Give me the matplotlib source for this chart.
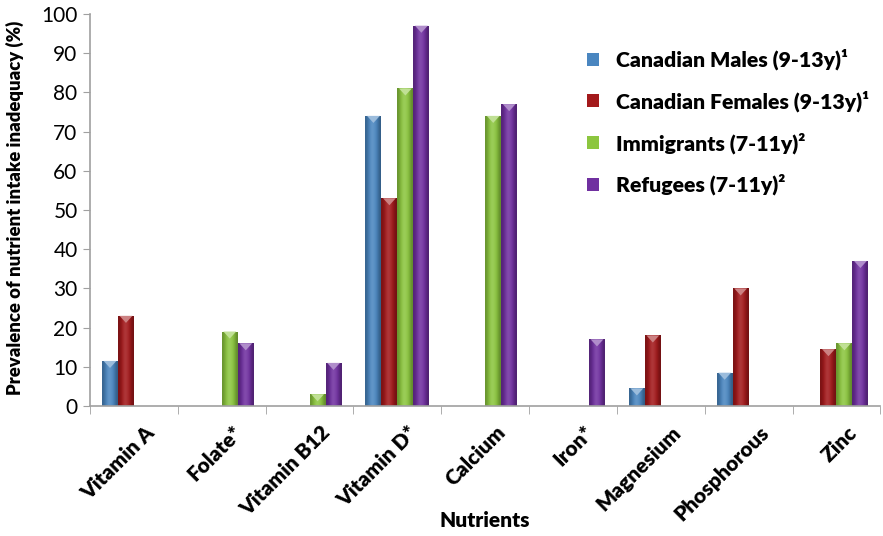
import numpy as np
import matplotlib.pyplot as plt
from matplotlib.patches import Patch, Polygon
from matplotlib.colors import to_rgb

plt.rcParams['font.family'] = ['Lato', 'DejaVu Sans']

nutrients = ['Vitamin A', 'Folate*', 'Vitamin B12', 'Vitamin D*', 'Calcium',
             'Iron*', 'Magnesium', 'Phosphorous', 'Zinc']
series = ['Canadian Males (9-13y)¹', 'Canadian Females (9-13y)¹',
          'Immigrants (7-11y)²', 'Refugees (7-11y)²']
males = [11.5, 0, 0, 74, 0, 0, 4.5, 8.5, 0]
females = [23, 0, 0, 53, 0, 0, 18, 30, 14.5]
immigrants = [0, 19, 3, 81, 74, 0, 0, 0, 16]
refugees = [0, 16, 11, 97, 77, 17, 0, 0, 37]
colors = ['#4a86c0', '#a3191b', '#8cc63f', '#7030a0']

values = [males, females, immigrants, refugees]

fig = plt.figure(figsize=(8.83, 5.36), dpi=100)
ax = fig.add_axes([0.102, 0.2425, 0.895, 0.7315])

x = np.arange(len(nutrients))
w = 0.182


def shade(c, f):
    r = np.array(to_rgb(c))
    if f >= 0:
        return tuple(r + (1 - r) * f)
    return tuple(r * (1 + f))


for i, (vals, col) in enumerate(zip(values, colors)):
    pos = x + (i - 1.5) * w
    bars = ax.bar(pos, vals, w, color=col, edgecolor='none', zorder=2)
    grad = np.array([shade(col, f) for f in [-0.25, -0.05, 0.15, 0.1, -0.05, -0.3]])
    for b, v in zip(bars, vals):
        if v <= 0:
            continue
        x0 = b.get_x()
        im = ax.imshow(grad[np.newaxis, :, :], extent=[x0, x0 + w, 0, v],
                       aspect='auto', interpolation='bicubic', zorder=2)
        im.set_clip_path(b)
        cap = min(1.8, v)
        tri = Polygon([[x0 + w * 0.1, v], [x0 + w * 0.9, v], [x0 + w / 2, v - cap]],
                      closed=True, facecolor=shade(col, 0.45), edgecolor='none', zorder=3)
        ax.add_patch(tri)

ax.set_xlim(-0.5, len(nutrients) - 0.5)
ax.set_ylim(0, 100)
ax.set_yticks(range(0, 101, 10))
ax.set_yticklabels([str(t) for t in range(0, 101, 10)], fontsize=15)
ax.set_xticks(x + 0.12)
ax.set_xticklabels(nutrients, rotation=45, ha='right', rotation_mode='anchor',
                   fontweight='heavy', fontsize=15)
ax.tick_params(axis='x', length=0, pad=12)
ax.set_xticks(np.arange(-0.5, len(nutrients), 1), minor=True)
ax.tick_params(axis='x', which='minor', length=6, color='#a0a0a0')
ax.tick_params(axis='y', length=5, color='#a0a0a0', pad=4)

for s in ['top', 'right']:
    ax.spines[s].set_visible(False)
for s in ['left', 'bottom']:
    ax.spines[s].set_color('#a0a0a0')
    ax.spines[s].set_linewidth(1.2)

ax.set_ylabel('Prevalence of nutrient intake inadequacy (%)', fontweight='heavy',
              fontsize=13.3)
ax.yaxis.set_label_coords(-0.083, 0.505)
ax.set_xlabel('Nutrients', fontweight='heavy', fontsize=15)
ax.xaxis.set_label_coords(0.5, -0.268)

handles = [Patch(facecolor=c, edgecolor='none') for c in colors]
ax.legend(handles, series, loc='upper left', bbox_to_anchor=(0.605, 0.96),
          frameon=False, handlelength=0.55, handleheight=0.55, handletextpad=0.8,
          labelspacing=0.95, prop={'weight': 'heavy', 'size': 15.3})

fig.savefig('out.png', dpi=100)
